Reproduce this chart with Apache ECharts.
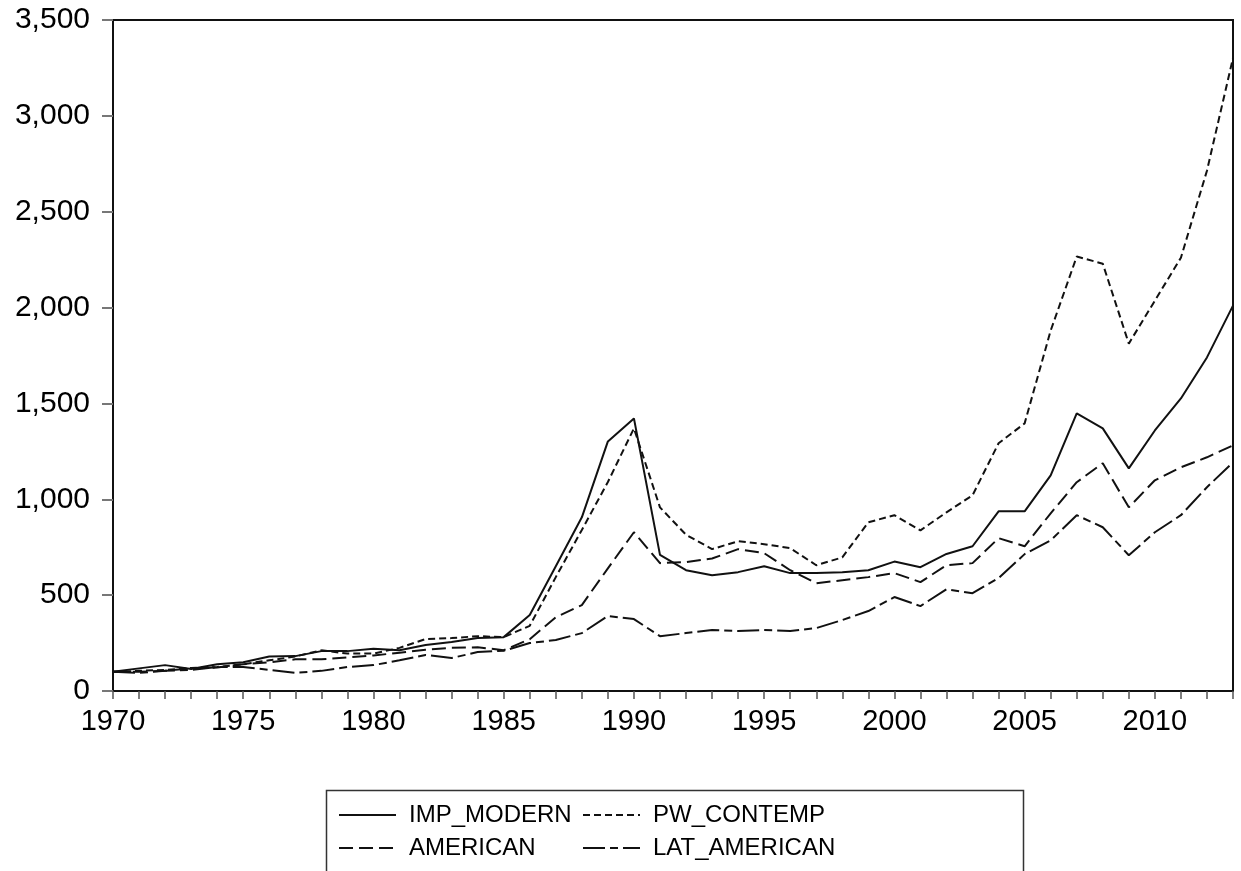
<!DOCTYPE html>
<html>
<head>
<meta charset="utf-8">
<script src="https://cdn.jsdelivr.net/npm/echarts@6/dist/echarts.min.js"></script>
<style>
  html, body { margin: 0; padding: 0; background: #fff; }
  #chart { width: 1241px; height: 871px; }
</style>
</head>
<body>
<div id="chart"></div>
<script>
// years on the x axis
var years = ['1970', '1971', '1972', '1973', '1974', '1975', '1976', '1977', '1978', '1979',
  '1980', '1981', '1982', '1983', '1984', '1985', '1986', '1987', '1988', '1989',
  '1990', '1991', '1992', '1993', '1994', '1995', '1996', '1997', '1998', '1999',
  '2000', '2001', '2002', '2003', '2004', '2005', '2006', '2007', '2008', '2009',
  '2010', '2011', '2012', '2013']

// series values
var impModern = [100, 118, 135, 115, 140, 150, 180, 182, 208, 208,
  220, 213, 240, 255, 276, 281, 396, 651, 906, 1302,
  1422, 710, 630, 604, 620, 651, 615, 615, 620, 630,
  675, 646, 715, 755, 937, 937, 1125, 1448, 1370, 1161,
  1359, 1526, 1740, 2010]
var pwContemp = [100, 105, 110, 120, 125, 140, 160, 180, 212, 195,
  195, 225, 271, 276, 286, 281, 340, 594, 840, 1090,
  1370, 958, 815, 740, 781, 766, 745, 656, 697, 880,
  917, 838, 932, 1021, 1292, 1396, 1880, 2266, 2229, 1812,
  2036, 2260, 2714, 3302]
var american = [100, 100, 105, 118, 122, 140, 150, 165, 165, 175,
  185, 200, 215, 225, 228, 213, 270, 385, 448, 640,
  828, 667, 672, 691, 740, 719, 630, 562, 578, 594,
  615, 568, 656, 667, 797, 755, 927, 1089, 1188, 958,
  1099, 1167, 1219, 1281]
var latAmerican = [100, 95, 105, 110, 125, 125, 110, 95, 105, 125,
  135, 160, 188, 172, 203, 210, 250, 266, 302, 391,
  375, 286, 302, 318, 313, 318, 313, 328, 370, 417,
  490, 443, 531, 510, 589, 714, 786, 917, 854, 708,
  828, 917, 1063, 1193]

var yTicks = { min: 0, max: 3500, step: 500 }

var chart = echarts.init(document.getElementById('chart'), null, { renderer: 'canvas' })

// 线型
function mkLine (name, data, dash) {
  return {
    name: name,
    type: 'line',
    data: data,
    symbol: 'none',
    animation: false,
    color: '#111',
    itemStyle: { color: '#111' },
    lineStyle: { color: '#111', width: 2, type: dash },
    emphasis: { disabled: true }
  }
}

var legendText = {
  fontFamily: '"Liberation Sans Narrow", "Liberation Sans", Arial, sans-serif',
  fontSize: 24,
  lineHeight: 28,
  color: '#000',
  padding: [0, 0, 0, 8]
}

function mkLegend (names, left) {
  return {
    data: names,
    orient: 'vertical',
    left: left,
    top: 801,
    padding: 0,
    itemWidth: 57,
    itemHeight: 14,
    itemGap: 5,
    itemStyle: { opacity: 0 },
    textStyle: legendText,
    selectedMode: false
  }
}

chart.setOption({
  backgroundColor: '#fff',
  textStyle: { fontFamily: '"Liberation Sans", Arial, sans-serif' },
  grid: {
    left: 113,
    top: 20,
    width: 1120,
    height: 671,
    show: true,
    borderColor: '#111',
    borderWidth: 2,
    backgroundColor: 'transparent'
  },
  legend: [
    mkLegend(['IMP_MODERN', 'AMERICAN'], 338),
    mkLegend(['PW_CONTEMP', 'LAT_AMERICAN'], 582)
  ],
  graphic: [
    {
      type: 'rect',
      left: 324,
      top: 788,
      shape: { width: 697, height: 100 },
      style: { fill: 'none', stroke: '#333', lineWidth: 1.5 }
    }
  ],
  xAxis: {
    type: 'category',
    data: years,
    boundaryGap: false,
    axisLine: { lineStyle: { color: '#111', width: 2 } },
    axisTick: { interval: 0, length: 8, lineStyle: { color: '#555', width: 1.5 } },
    axisLabel: {
      interval: 4,
      margin: 16,
      fontSize: 29,
      color: '#000'
    },
    splitLine: { show: false }
  },
  yAxis: {
    type: 'value',
    min: yTicks.min,
    max: yTicks.max,
    interval: yTicks.step,
    axisLine: { show: true, lineStyle: { color: '#111', width: 2 } },
    axisTick: { show: true, length: 11, lineStyle: { color: '#777', width: 2 } },
    axisLabel: {
      margin: 23,
      fontSize: 30,
      color: '#000',
      formatter: function (v) { return v.toLocaleString('en-US') }
    },
    splitLine: { show: false }
  },
  series: [
    mkLine('IMP_MODERN', impModern, 'solid'),
    mkLine('PW_CONTEMP', pwContemp, [7, 4]),
    mkLine('AMERICAN', american, [14, 6]),
    mkLine('LAT_AMERICAN', latAmerican, [22, 5, 8, 5])
  ]
})
</script>
</body>
</html>
